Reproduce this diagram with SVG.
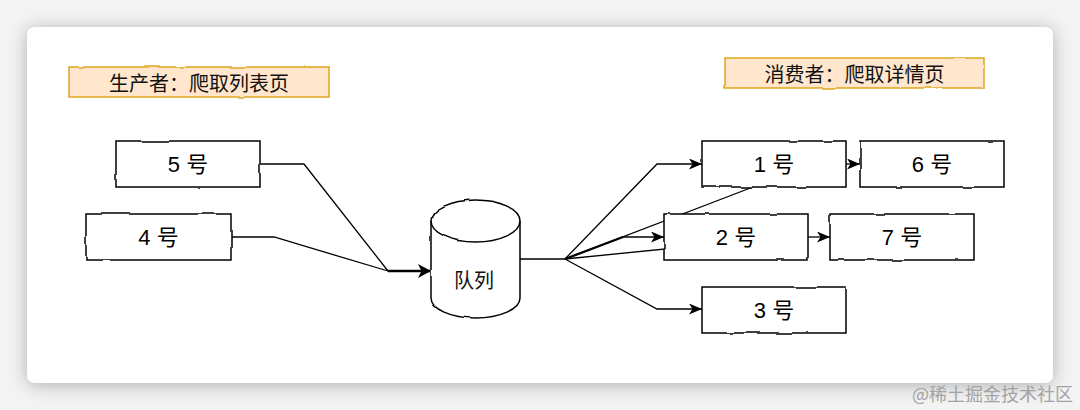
<svg xmlns="http://www.w3.org/2000/svg" width="1080" height="410" viewBox="0 0 1080 410">
  <defs>
    <filter id="shadow" x="-5%" y="-10%" width="110%" height="125%">
      <feDropShadow dx="0" dy="2" stdDeviation="9" flood-color="#000" flood-opacity="0.28"/>
    </filter>
    <filter id="sketch" x="-5%" y="-15%" width="110%" height="130%">
      <feTurbulence type="fractalNoise" baseFrequency="0.04" numOctaves="2" seed="3" result="n"/>
      <feDisplacementMap in="SourceGraphic" in2="n" scale="2.6" xChannelSelector="R" yChannelSelector="G"/>
    </filter>
    <marker id="arr" viewBox="0 0 13 11" refX="13" refY="5.5" markerWidth="13" markerHeight="11" orient="auto" markerUnits="userSpaceOnUse">
      <path d="M0,0 L13,5.5 L0,11 L3.5,5.5 Z" fill="#000"/>
    </marker>
    <marker id="arrBig" viewBox="0 0 13 14" refX="13" refY="7" markerWidth="13" markerHeight="14" orient="auto" markerUnits="userSpaceOnUse">
      <path d="M0,0 L13,7 L0,14 L3.5,7 Z" fill="#000"/>
    </marker>
    <style>
      .box { fill: #ffffff; stroke: #000000; stroke-width: 1.5; }
      .lbl { fill: #ffe6cc; stroke: #d79b00; stroke-width: 1.3; }
      .t { font-family: "Liberation Sans", "Noto Sans CJK SC", sans-serif; font-size: 22px; fill: #000; text-anchor: middle; dominant-baseline: central; }
      .tl { font-family: "Noto Sans CJK SC", sans-serif; font-size: 20px; fill: #111; text-anchor: middle; dominant-baseline: central; }
      .ln { fill: none; stroke: #000; stroke-width: 1.3; }
      .wm { font-family: "Noto Sans CJK SC", sans-serif; font-size: 18px; fill: #a3a3a3; text-anchor: end; dominant-baseline: central; }
    </style>
  </defs>

  <rect x="0" y="0" width="1080" height="410" fill="#f3f3f3"/>
  <rect x="27" y="27" width="1026" height="356" rx="8" fill="#ffffff" filter="url(#shadow)"/>

  <g id="connectors">
    <path class="ln" d="M260,164 H304 L388,271"/>
    <path class="ln" d="M231,237 H274 L388,271"/>
    <path class="ln" d="M388,271 H431" stroke-width="2.6" style="stroke-width:2.6" marker-end="url(#arrBig)"/>
    <path class="ln" d="M520,259 H565"/>
    <path class="ln" d="M565,259 L657,164 H702" marker-end="url(#arr)"/>
    <path class="ln" d="M565,259 L623,237" style="stroke-width:2.3"/>
    <path class="ln" d="M623,237 H664" marker-end="url(#arr)"/>
    <path class="ln" d="M565,259 L753,187"/>
    <path class="ln" d="M565,259 L700,245.5"/>
    <path class="ln" d="M565,259 L657,309 H702" marker-end="url(#arr)"/>
    <path class="ln" d="M846,164 H860" marker-end="url(#arr)"/>
    <path class="ln" d="M808,237 H830" marker-end="url(#arr)"/>
  </g>

  <g id="label-producer">
    <rect class="lbl" x="69" y="67" width="260" height="30" filter="url(#sketch)"/>
    <text class="tl" x="199" y="82">生产者：爬取列表页</text>
  </g>
  <g id="label-consumer">
    <rect class="lbl" x="725" y="58" width="259" height="30" filter="url(#sketch)"/>
    <text class="tl" x="854.5" y="73">消费者：爬取详情页</text>
  </g>

  <g id="node-5">
    <rect class="box" x="116" y="141" width="144" height="46" filter="url(#sketch)"/>
    <text class="t" x="188" y="164">5 号</text>
  </g>
  <g id="node-4">
    <rect class="box" x="86" y="214" width="145" height="46" filter="url(#sketch)"/>
    <text class="t" x="158.5" y="237">4 号</text>
  </g>

  <g id="queue">
    <path class="box" filter="url(#sketch)" d="M431,221 A44.5,21 0 0 1 520,221 V298 A44.5,20 0 0 1 431,298 Z"/>
    <path class="ln" style="stroke-width:1.5" filter="url(#sketch)" d="M431,221 A44.5,21 0 0 0 520,221"/>
    <text class="tl" x="474" y="279">队列</text>
  </g>

  <g id="node-1">
    <rect class="box" x="702" y="141" width="144" height="46" filter="url(#sketch)"/>
    <text class="t" x="774" y="164">1 号</text>
  </g>
  <g id="node-6">
    <rect class="box" x="860" y="141" width="144" height="46" filter="url(#sketch)"/>
    <text class="t" x="932" y="164">6 号</text>
  </g>
  <g id="node-2">
    <rect class="box" x="664" y="214" width="144" height="46" filter="url(#sketch)"/>
    <text class="t" x="736" y="237">2 号</text>
  </g>
  <g id="node-7">
    <rect class="box" x="830" y="214" width="144" height="46" filter="url(#sketch)"/>
    <text class="t" x="902" y="237">7 号</text>
  </g>
  <g id="node-3">
    <rect class="box" x="702" y="287" width="144" height="46" filter="url(#sketch)"/>
    <text class="t" x="774" y="310">3 号</text>
  </g>

  <text class="wm" x="1073" y="393">@稀土掘金技术社区</text>
</svg>
